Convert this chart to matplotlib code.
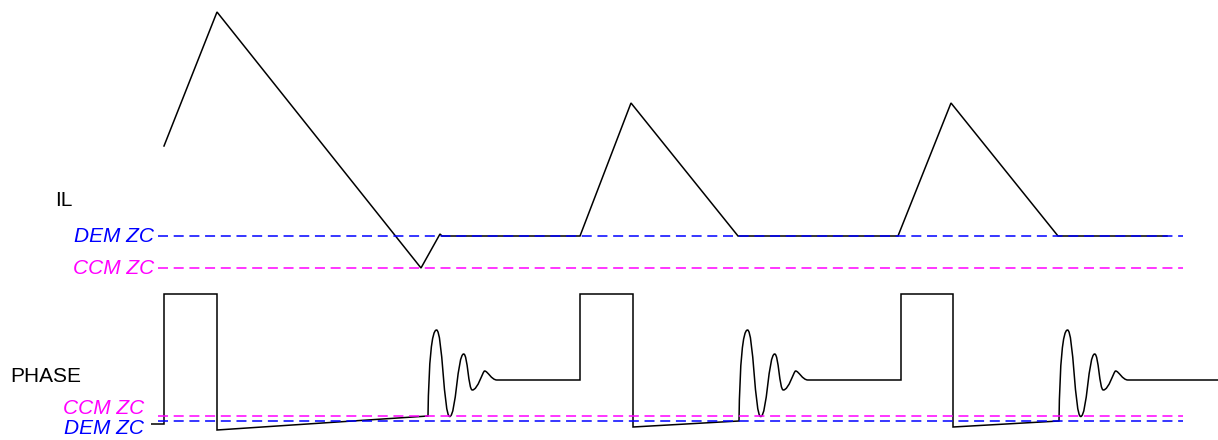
import matplotlib
matplotlib.use("Agg")
import matplotlib.pyplot as plt
from matplotlib.path import Path
from matplotlib.patches import PathPatch

plt.rcParams['lines.scale_dashes'] = False

# ---------------- data (time axis in px-like units, signal level downward) -------------
il_t = [164, 217, 421, 440, 442, 580, 631, 738, 898, 951, 1058, 1167]
il_v = [146, 12, 268, 234, 236, 236, 103, 236, 236, 103, 236, 236]

# phase: straight segments before each ringing burst
phase_pre_t = [[151, 164, 164, 217, 217, 428],
               [497, 580, 580, 633, 633, 739],
               [808, 901, 901, 953, 953, 1059]]
phase_pre_v = [[424, 424, 294, 294, 430, 416],
               [380, 380, 294, 294, 427, 421],
               [380, 380, 294, 294, 427, 421]]
# ringing extrema (offset from burst start, level)
ring_dt = [8.5, 21.7, 35.7, 44.3, 56.6, 69.0]
ring_v = [330, 416.5, 354, 390, 371, 380]
phase_end_t = 1218
phase_end_v = 380

il_dem_zc = 236.5
il_ccm_zc = 268.5
ph_ccm_zc = 416.5
ph_dem_zc = 421.5
zc_t0, zc_t1 = 158, 1183

BLUE = '#0000FF'
MAG = '#FF00FF'

fig = plt.figure(figsize=(12.18, 4.40), dpi=100)
ax = fig.add_axes([0, 0, 1, 1])
ax.set_xlim(0, 1218)
ax.set_ylim(440, 0)
ax.axis('off')

lw = 1.1
ax.plot(il_t, il_v, color='black', lw=lw, solid_joinstyle='miter')

# build phase path with smooth ringing
verts, codes = [], []
for bi in range(3):
    ts, vs = phase_pre_t[bi], phase_pre_v[bi]
    for i, (t, v) in enumerate(zip(ts, vs)):
        verts.append((t, v))
        codes.append(Path.MOVETO if (bi == 0 and i == 0) else Path.LINETO)
    t0 = ts[-1]
    px, py = t0, vs[-1]
    for k, (dt, v) in enumerate(zip(ring_dt, ring_v)):
        x1 = t0 + dt
        dx = x1 - px
        if k == 0:
            c1 = (px + 0.1 * dx, py - 0.65 * (py - v))
            c2 = (px + 0.45 * dx, v)
        elif k == 4:
            c1 = (px + 0.45 * dx, py)
            c2 = (x1 - 0.15 * dx, v)
        elif k == 5:
            c1 = (px + 0.25 * dx, py)
            c2 = (x1 - 0.45 * dx, v)
        else:
            c1 = (px + 0.45 * dx, py)
            c2 = (x1 - 0.45 * dx, v)
        verts += [c1, c2, (x1, v)]
        codes += [Path.CURVE4] * 3
        px, py = x1, v
verts.append((phase_end_t, phase_end_v))
codes.append(Path.LINETO)
ax.add_patch(PathPatch(Path(verts, codes), fill=False, edgecolor='black', lw=lw))

dash = (0, (7.2, 4.1))
for y, c in [(il_dem_zc, BLUE), (il_ccm_zc, MAG), (ph_ccm_zc, MAG), (ph_dem_zc, BLUE)]:
    ax.plot([zc_t0, zc_t1], [y, y], color=c, lw=lw, linestyle=dash, zorder=5)

fs = 15
fam = ['Liberation Sans', 'DejaVu Sans']
ax.text(55, 200, 'IL', fontsize=fs, family=fam, va='center', ha='left')
ax.text(10, 377, 'PHASE', fontsize=fs, family=fam, va='center', ha='left')
ax.text(154, 237, 'DEM ZC', fontsize=fs, family=fam, style='italic', color=BLUE, va='center', ha='right')
ax.text(154, 269, 'CCM ZC', fontsize=fs, family=fam, style='italic', color=MAG, va='center', ha='right')
ax.text(144, 408, 'CCM ZC', fontsize=fs, family=fam, style='italic', color=MAG, va='center', ha='right')
ax.text(144, 428, 'DEM ZC', fontsize=fs, family=fam, style='italic', color=BLUE, va='center', ha='right')

fig.savefig('out.png', dpi=100, facecolor='white')
